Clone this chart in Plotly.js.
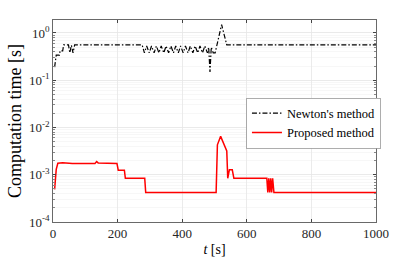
<!DOCTYPE html>
<html>
<head>
<meta charset="utf-8">
<script src="https://cdn.plot.ly/plotly-3.0.1.min.js"></script>
<style>html,body{margin:0;padding:0;background:#fff;}#chart{width:415px;height:259px;}</style>
</head>
<body>
<div id="chart"></div>
<script>
// Newton's method (black dash-dot)
var newtonT = [5, 8, 10, 20, 22, 30, 33, 48, 52, 57, 62, 67, 73, 276,
  283, 290, 298, 305, 313, 320, 328, 335, 343, 350, 358, 365, 373, 380, 388, 395,
  403, 410, 418, 425, 433, 440, 448, 455, 463, 470, 478, 482, 486, 490, 496, 502,
  522, 538, 1000];
var newtonV = [0.19, 0.33, 0.34, 0.34, 0.42, 0.42, 0.56, 0.56, 0.38, 0.55, 0.38, 0.56, 0.56, 0.56,
  0.38, 0.53, 0.38, 0.53, 0.38, 0.53, 0.38, 0.53, 0.38, 0.53, 0.38, 0.53, 0.38, 0.53, 0.38, 0.53,
  0.38, 0.53, 0.38, 0.53, 0.38, 0.53, 0.38, 0.53, 0.38, 0.53, 0.38, 0.5, 0.15, 0.5, 0.38, 0.38,
  1.5, 0.56, 0.56];

// Proposed method (red)
var propT = [5, 10, 15, 30, 60, 130, 135, 140, 198, 202, 221, 224, 284, 287,
  505, 509, 519, 533, 538, 541, 546, 555, 560, 662, 665, 668, 671, 674, 677, 680, 684, 1000];
var propV = [4.9e-4, 1.3e-3, 1.75e-3, 1.8e-3, 1.72e-3, 1.74e-3, 1.9e-3, 1.78e-3, 1.74e-3, 1.25e-3, 1.25e-3, 8.4e-4, 8.4e-4, 4.2e-4,
  4.2e-4, 4.3e-3, 6.5e-3, 3.7e-3, 3.2e-3, 8.4e-4, 1.27e-3, 1.27e-3, 8.4e-4, 8.4e-4, 4.2e-4, 8.4e-4, 4.2e-4, 8.4e-4, 4.2e-4, 8.4e-4, 4.2e-4, 4.2e-4];

var seriesNames = ["Newton's method", "Proposed method"];
var xTicks = [0, 200, 400, 600, 800, 1000];
var yTickVals = [1e-4, 1e-3, 1e-2, 1e-1, 1];
var yTickText = ["10<sup>-4</sup>", "10<sup>-3</sup>", "10<sup>-2</sup>", "10<sup>-1</sup>", "10<sup>0</sup>"];

var serif = "Liberation Serif, Times New Roman, serif";

var traces = [
  {x: newtonT, y: newtonV, name: seriesNames[0], mode: 'lines',
   line: {color: '#000', width: 1.2, dash: '5px,2px,1.5px,2px'}},
  {x: propT, y: propV, name: seriesNames[1], mode: 'lines',
   line: {color: '#ff0000', width: 1.5}}
];

var layout = {
  width: 415, height: 259,
  margin: {l: 53, r: 39, t: 20, b: 37},
  paper_bgcolor: '#fff', plot_bgcolor: '#fff',
  font: {family: serif, size: 13, color: '#262626'},
  showlegend: true,
  legend: {x: 0.598, y: 0.615, xanchor: 'left', yanchor: 'top',
    bgcolor: '#fff', bordercolor: '#999', borderwidth: 0.8,
    font: {family: serif, size: 12.5, color: '#000'},
    tracegroupgap: 0, itemwidth: 30},
  xaxis: {
    range: [0, 1000], tickvals: xTicks, ticktext: xTicks.map(String),
    ticks: 'inside', ticklen: 3, tickcolor: '#444',
    showline: true, linecolor: '#444', linewidth: 0.8, mirror: 'ticks',
    showgrid: true, gridcolor: '#e6e6e6', gridwidth: 0.8, zeroline: false,
    tickfont: {family: serif, size: 13, color: '#262626'},
    title: {text: '<i>t</i> [s]', font: {family: serif, size: 14, color: '#000'}, standoff: 3}
  },
  yaxis: {
    type: 'log', range: [-4, 0.275], tickvals: yTickVals, ticktext: yTickText,
    ticks: 'inside', ticklen: 3, tickcolor: '#444',
    showline: true, linecolor: '#444', linewidth: 0.8, mirror: 'ticks',
    showgrid: true, gridcolor: '#e6e6e6', gridwidth: 0.8, zeroline: false,
    minor: {tickmode: 'linear', tick0: 0, dtick: 'D1', showgrid: true, gridcolor: '#f2f2f2', gridwidth: 0.6, ticks: 'inside', ticklen: 2, tickcolor: '#888'},
    tickfont: {family: serif, size: 13, color: '#262626'},
    title: {text: 'Computation time [s]', font: {family: serif, size: 18, color: '#000'}, standoff: 2}
  }
};

Plotly.newPlot('chart', traces, layout, {displayModeBar: false, staticPlot: true});
</script>
</body>
</html>
